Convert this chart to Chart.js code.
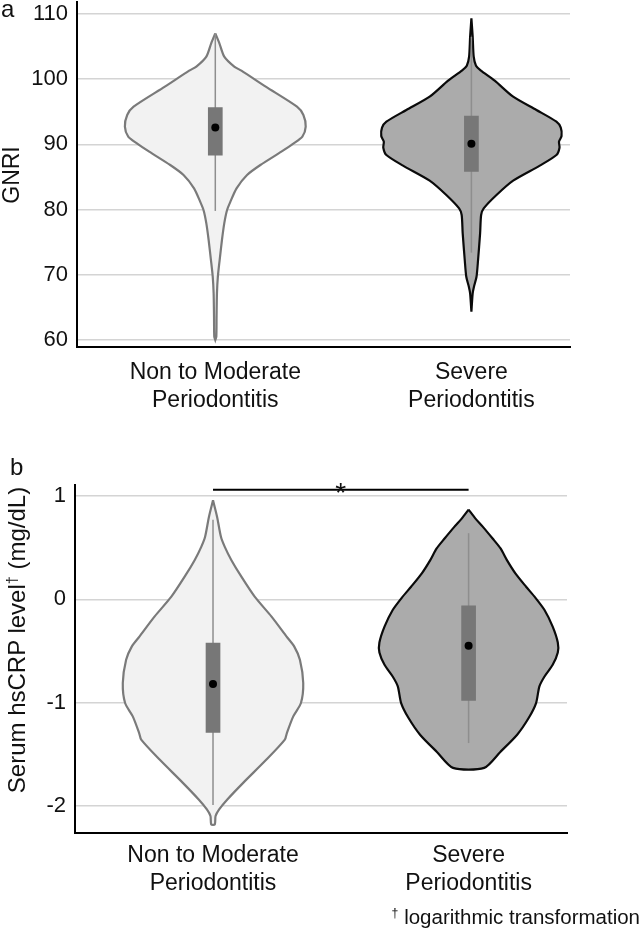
<!DOCTYPE html>
<html><head><meta charset="utf-8">
<script src="https://cdn.jsdelivr.net/npm/chart.js@4.4.1/dist/chart.umd.min.js"></script>
<style>
html,body{margin:0;padding:0;background:#fff;}
body{width:644px;height:940px;position:relative;overflow:hidden;font-family:"Liberation Sans",Arial,sans-serif;color:#111;}
.cv{position:absolute;left:0;width:644px;}
.txt{position:absolute;white-space:nowrap;line-height:1;}
.rot{position:absolute;white-space:nowrap;line-height:1;transform:translate(-50%,-50%) rotate(-90deg);}
sup{font-size:0.6em;line-height:0;vertical-align:0.55em;}
</style></head><body>
<div class="cv" style="top:0;height:420px"><canvas id="ca"></canvas></div>
<div class="cv" style="top:440px;height:470px"><canvas id="cb"></canvas></div>
<div class="txt" style="left:1px;top:-3.3px;font-size:24px">a</div>
<div class="txt" style="left:10px;top:454.7px;font-size:24px">b</div>
<div class="rot" style="left:11px;top:175px;font-size:23px">GNRI</div>
<div class="rot" style="left:17px;top:640px;font-size:24px">Serum hsCRP level<sup>†</sup> (mg/dL)</div>
<div class="txt" style="right:4px;top:907px;font-size:20.5px"><sup>†</sup> logarithmic transformation</div>
<script>
// ---------- data ----------
const categories = [["Non to Moderate","Periodontitis"],["Severe","Periodontitis"]];
const gnriTicks = [60,70,80,90,100,110];
const crpTicks = [-2,-1,0,1];

// violin outlines: value levels and half-widths (density, x-axis units)
const gnriNonY = [107.03,105.50,103.46,101.93,101.31,98.85,95.78,94.51,92.72,91.19,90.16,88.89,86.84,85.31,83.26,81.22,79.94,77.89,75.34,72.27,69.71,67.16,63.58,60.51,60.0];
const gnriNonW = [0,0.016,0.035,0.074,0.102,0.197,0.319,0.344,0.353,0.340,0.306,0.258,0.176,0.124,0.083,0.059,0.046,0.035,0.026,0.017,0.010,0.0065,0.005,0.004,0];
const gnriSevY = [109.34,106.52,103.46,102.08,101.36,99.78,97.32,95.28,93.49,92.57,91.29,90.42,89.50,88.37,86.74,84.44,82.24,80.19,79.17,76.36,72.27,69.71,68.18,67.16,64.35];
const gnriSevW = [0,0.005,0.009,0.018,0.036,0.091,0.163,0.254,0.332,0.349,0.352,0.342,0.344,0.332,0.267,0.163,0.098,0.048,0.038,0.034,0.026,0.020,0.010,0.005,0];
const crpNonY = [0.958,0.797,0.605,0.508,0.379,0.219,0.026,-0.167,-0.360,-0.457,-0.585,-0.810,-1.003,-1.132,-1.293,-1.357,-1.550,-1.775,-1.936,-2.032,-2.096,-2.177];
const crpNonW = [0,0.016,0.031,0.046,0.072,0.111,0.163,0.229,0.288,0.318,0.340,0.353,0.344,0.314,0.289,0.281,0.209,0.118,0.056,0.024,0.010,0.007];
const crpSevY = [0.868,0.781,0.701,0.588,0.492,0.379,0.251,0.122,0.026,-0.103,-0.264,-0.418,-0.514,-0.633,-0.746,-0.842,-1.003,-1.148,-1.309,-1.476,-1.630];
const crpSevW = [0,0.027,0.056,0.094,0.125,0.150,0.183,0.225,0.258,0.297,0.329,0.349,0.349,0.329,0.297,0.277,0.264,0.235,0.190,0.124,0.061];

// box-plot statistics [Non to Moderate, Severe]
const gnriQ1 = [88.3, 85.8];
const gnriQ3 = [95.7, 94.4];
const gnriMedian = [92.6, 90.1];
const gnriWhiskLow = [79.8, 73.4];
const gnriWhiskHigh = [107.0, 106.5];
const crpQ1 = [-1.29, -0.98];
const crpQ3 = [-0.42, -0.06];
const crpMedian = [-0.82, -0.45];
const crpWhiskLow = [-1.99, -1.39];
const crpWhiskHigh = [0.77, 0.64];

// significance bracket (panel b)
const sigGroups = [1, 2];
const sigLevel = 1.06;
const sigLabel = "*";

// ---------- build ----------
Chart.defaults.font.family = '"Liberation Sans", Arial, sans-serif';
Chart.defaults.color = '#111';
const BOX_HW = 0.0287;
const styles = [
  {fill:'#f2f2f2', border:'#7a7a7a'},
  {fill:'#ababab', border:'#0a0a0a'}
];

function outline(center, ys, ws){
  const right = ys.map((y,i)=>({x:center+ws[i], y}));
  const left = ys.map((y,i)=>({x:center-ws[i], y})).reverse();
  const pts = right.concat(left);
  pts.push(pts[0]);
  return pts;
}
function boxPts(center, q1, q3){
  return [{x:center-BOX_HW,y:q1},{x:center+BOX_HW,y:q1},{x:center+BOX_HW,y:q3},{x:center-BOX_HW,y:q3},{x:center-BOX_HW,y:q1}];
}
function panelDatasets(Ys, Ws, q1, q3, med, lo, hi){
  const ds = [];
  for (let i=0;i<2;i++){
    const c = i+1;
    ds.push({data: outline(c, Ys[i], Ws[i]), backgroundColor: styles[i].fill, borderColor: styles[i].border,
      borderWidth: 2.2, fill:'shape', tension:0.25, pointRadius:0, order:4});
    ds.push({data:[{x:c,y:lo[i]},{x:c,y:hi[i]}], borderColor:'#8e8e8e', borderWidth:1.5, fill:false, pointRadius:0, tension:0, order:3});
    ds.push({data: boxPts(c, q1[i], q3[i]), backgroundColor:'#777777', borderColor:'#777777', borderWidth:0, fill:'shape', tension:0, pointRadius:0, order:2});
    ds.push({data:[{x:c,y:med[i]}], showLine:false, pointRadius:4, pointHoverRadius:4, backgroundColor:'#000', borderColor:'#000', borderWidth:0, order:1});
  }
  return ds;
}
function noPad(s){ s.paddingTop = 0; s.paddingBottom = 0; s.paddingLeft = 0; s.paddingRight = 0; }
function xScale(h, pad){
  return {type:'linear', min:0.46, max:2.385,
    afterBuildTicks: s => { s.ticks = [1,2].map(v=>({value:v})); },
    afterFit: s => { s.height = h; noPad(s); },
    grid:{display:false, drawTicks:false, tickLength:0},
    border:{display:true, color:'#000', width:2},
    ticks:{padding:pad, color:'#111', maxRotation:0, autoSkip:false,
      font:{size:23, lineHeight:1.25}, callback: v => categories[Math.round(v)-1]}};
}
function yScale(min, max, ticks, w){
  return {type:'linear', min, max,
    afterBuildTicks: s => { s.ticks = ticks.map(v=>({value:v})); },
    afterFit: s => { s.width = w; noPad(s); },
    grid:{color:'#d4d4d4', lineWidth:1.5, drawTicks:false, tickLength:0},
    border:{display:true, color:'#000', width:2},
    ticks:{padding:9, color:'#111', font:{size:22}, callback: v => String(v)}};
}
const common = {animation:false, responsive:true, maintainAspectRatio:false,
  plugins:{legend:{display:false}, tooltip:{enabled:false}}, events:[]};

new Chart(document.getElementById('ca'), {
  type:'line',
  data:{datasets: panelDatasets([gnriNonY,gnriSevY],[gnriNonW,gnriSevW], gnriQ1, gnriQ3, gnriMedian, gnriWhiskLow, gnriWhiskHigh)},
  options:Object.assign({}, common, {
    layout:{autoPadding:false, padding:{top:2, right:74, left:0, bottom:0}},
    scales:{x:xScale(73, 11), y:yScale(58.93, 111.84, gnriTicks, 77)}
  })
});

const sigPlugin = {
  id:'sigStar',
  afterDatasetsDraw(chart){
    const {ctx, scales:{x,y}} = chart;
    const px = x.getPixelForValue((sigGroups[0]+sigGroups[1])/2);
    const py = y.getPixelForValue(sigLevel);
    ctx.save();
    ctx.fillStyle = '#111';
    ctx.font = '28px "Liberation Sans", Arial, sans-serif';
    ctx.textAlign = 'center';
    ctx.textBaseline = 'alphabetic';
    ctx.fillText(sigLabel, px, py + 12);
    ctx.restore();
  }
};
const dsB = panelDatasets([crpNonY,crpSevY],[crpNonW,crpSevW], crpQ1, crpQ3, crpMedian, crpWhiskLow, crpWhiskHigh);
dsB.push({data: sigGroups.map(g=>({x:g, y:sigLevel})), borderColor:'#000', borderWidth:2, fill:false, pointRadius:0, tension:0, order:0});
new Chart(document.getElementById('cb'), {
  type:'line',
  data:{datasets: dsB},
  options:Object.assign({}, common, {
    layout:{autoPadding:false, padding:{top:45, right:77, left:0, bottom:0}},
    scales:{x:xScale(77, 8), y:yScale(-2.26, 1.106, crpTicks, 75)}
  }),
  plugins:[sigPlugin]
});
</script>
</body></html>
